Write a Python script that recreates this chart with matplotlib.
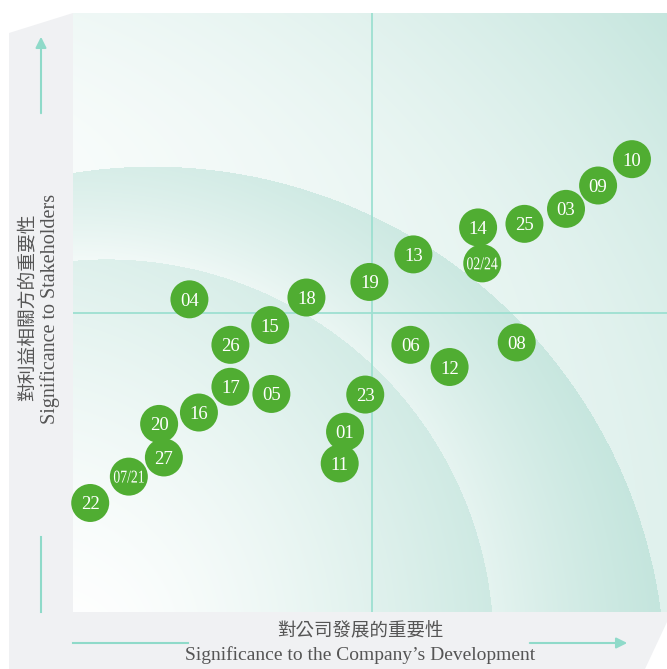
import numpy as np
import matplotlib
matplotlib.use("Agg")
import matplotlib.pyplot as plt
from matplotlib.patches import Polygon, PathPatch
from matplotlib.textpath import TextPath
from matplotlib.font_manager import FontProperties
from matplotlib.transforms import Affine2D, ScaledTranslation

# materiality topics: significance to the company (x) vs to stakeholders (y), 0-100
labels = ["10", "09", "03", "25", "14", "02/24", "13", "19", "04", "18",
          "15", "26", "17", "05", "16", "20", "27", "07/21", "22",
          "06", "12", "08", "23", "01", "11"]
x_company = [94.1, 88.4, 83.0, 76.0, 68.2, 68.9, 57.3, 49.9, 19.6, 39.3,
             33.2, 26.5, 26.5, 33.4, 21.2, 14.5, 15.3, 9.4, 2.9,
             56.8, 63.4, 74.7, 49.2, 45.8, 44.9]
y_stake = [75.6, 71.2, 67.3, 64.8, 64.2, 58.2, 59.7, 55.1, 52.2, 52.5,
           47.9, 44.6, 37.6, 36.4, 33.3, 31.4, 25.8, 22.6, 18.2,
           44.6, 40.9, 45.0, 36.3, 30.1, 24.8]

ylabel_zh = "對利益相關方的重要性"
ylabel_en = "Significance to Stakeholders"
xlabel_zh = "對公司發展的重要性"
xlabel_en = "Significance to the Company\u2019s Development"

green = "#50ad32"
teal = "#8fdac9"
gray_txt = "#555555"
serif = "Liberation Serif"

fig = plt.figure(figsize=(6.67, 6.69), dpi=100)

# full-figure axes in pixel units for the frame, arrows and labels
bg = fig.add_axes([0, 0, 1, 1])
bg.set_xlim(0, 667)
bg.set_ylim(669, 0)
bg.axis("off")
bg.add_patch(Polygon([(9, 33), (73, 13), (73, 612), (667, 612), (667, 622),
                      (645, 669), (9, 669)], closed=True,
                     facecolor="#f0f1f3", edgecolor="none"))

arrow = dict(arrowstyle="-|>", color=teal, lw=1.5, mutation_scale=16)
bg.annotate("", xy=(41, 34), xytext=(41, 116), arrowprops=arrow)
bg.plot([41, 41], [537, 612], color=teal, lw=1.5)
bg.plot([73, 188], [643, 643], color=teal, lw=1.5)
bg.annotate("", xy=(630, 643), xytext=(527, 643), arrowprops=arrow)

bg.text(27, 307, ylabel_zh, rotation=90, ha="center", va="center",
        fontsize=13.5, color=gray_txt, family=["Noto Sans CJK TC"])
bg.text(50, 309, ylabel_en, rotation=90, ha="center", va="center",
        fontsize=14.5, color=gray_txt, family=serif)
bg.text(360, 631, xlabel_zh, ha="center", va="center",
        fontsize=13.3, color=gray_txt, family=["Noto Sans CJK TC"])
bg.text(360, 655, xlabel_en, ha="center", va="center",
        fontsize=14, color=gray_txt, family=serif)

# plot area
ax = fig.add_axes([73 / 667, 57 / 669, 594 / 667, 599 / 669])

# banded teal background (computed on the pixel grid of the plot area)
W, H = 594, 599
X, Y = np.meshgrid(np.arange(W) + 73.5, np.arange(H) + 13.5)
d1 = np.hypot(X - 106.7, Y - 646.4) / 387.0
d2 = np.hypot(X - 152.9, Y - 679.2) / 512.5
lx = (X - 73) / 594.0
inner = d1 < 1
outer = d2 >= 1
ring = ~inner & ~outer
I = np.zeros_like(X)
I[inner] = 0.4 * lx[inner] + 0.55 * d1[inner] ** 1.5
f1 = (d1 - 1) / np.maximum((d1 - 1) + (1 - d2), 1e-6)
I[ring] = 0.2 + 0.35 * lx[ring] + 0.45 * np.clip(f1[ring], 0, 1)
f2 = np.clip((d2 - 1) / 0.64, 0, 1) ** 1.5
I[outer] = 0.12 + 0.4 * lx[outer] + 0.45 * f2[outer]
I = np.clip(I, 0, 1)[..., None]
dark = np.array([196, 229, 221]) / 255.0
rgb = (1 - I) * np.ones(3) + I * dark
ax.imshow(rgb, extent=(0, 100, 0, 100), origin="upper", aspect="auto",
          interpolation="bilinear", zorder=0)

ax.axvline(50.3, color="#9de0d1", lw=1.3, zorder=1)
ax.axhline(50, color="#9de0d1", lw=1.3, zorder=1)

ax.scatter(x_company, y_stake, s=748, color=green, edgecolors="none",
           zorder=3, clip_on=False)

fp = FontProperties(family=serif)
px_per_pt = fig.dpi / 72.0
for lab, xv, yv in zip(labels, x_company, y_stake):
    if "/" in lab:
        # condensed combined labels
        tp = TextPath((0, 0), lab, size=13, prop=fp)
        ext = tp.get_extents()
        tr = (Affine2D().translate(-(ext.x0 + ext.x1) / 2, -(ext.y0 + ext.y1) / 2)
              .scale(0.76 * px_per_pt, px_per_pt)
              + ScaledTranslation(xv, yv, ax.transData))
        ax.add_patch(PathPatch(tp, transform=tr, facecolor="white",
                               edgecolor="none", zorder=4))
    else:
        ax.text(xv, yv, lab, ha="center", va="center_baseline", color="white",
                fontsize=13.5, family=serif, zorder=4)

ax.set_xlim(0, 100)
ax.set_ylim(0, 100)
ax.axis("off")

fig.savefig("out.png", dpi=100)
